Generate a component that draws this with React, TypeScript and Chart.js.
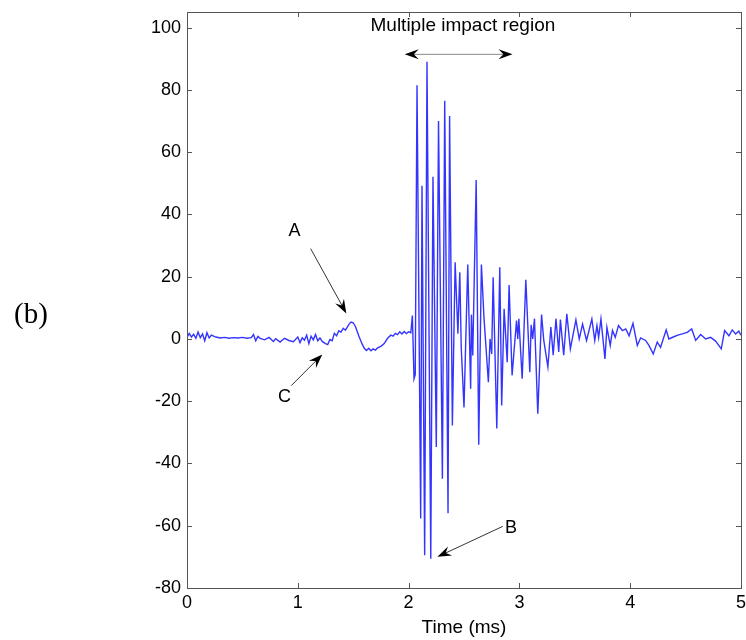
import { useEffect, useRef } from "react";
import { Chart, registerables } from "chart.js";

Chart.register(...registerables);

// ---- Data (time in ms, amplitude) ----
const preTimes = [
  0, 0.02, 0.04, 0.06, 0.08, 0.1, 0.12, 0.14, 0.16, 0.18, 0.2, 0.22,
  0.26, 0.3, 0.34, 0.38, 0.42, 0.46, 0.5, 0.54, 0.58,
  0.6, 0.62, 0.64, 0.66, 0.7, 0.74, 0.78, 0.8, 0.84, 0.88,
  0.92, 0.96, 1.0, 1.02, 1.04, 1.06, 1.08, 1.1, 1.12, 1.14,
  1.16, 1.18, 1.2, 1.22, 1.25, 1.27, 1.29, 1.31, 1.33, 1.35,
  1.37, 1.39, 1.41, 1.43, 1.46, 1.48, 1.5, 1.52, 1.55, 1.58,
  1.6, 1.62, 1.64, 1.66, 1.68, 1.7, 1.72, 1.75, 1.78, 1.81,
  1.84, 1.86, 1.88, 1.9, 1.92, 1.94, 1.96, 1.98, 2.0, 2.02,
];
const preValues = [
  0.5, 1.8, 0.6, 1.5, 0.2, 2.2, 0.4, 1.6, -0.6, 2.0, 0.3, 1.2,
  0.6, 0.3, 0.5, 0.2, 0.4, 0.3, 0.5, 0.2, 0.4,
  1.4, -0.6, 0.8, 0.2, -0.3, 0.5, -0.8, 0.1, -1.0, 0.2,
  -0.5, -0.9, 0.6, -1.2, 0.4, -0.4, 1.2, -1.5, 0.9, -0.3,
  1.4, -0.6, 0.3, -0.8, -1.5, -1.8, -0.2, -0.6, 1.8, 1.0,
  2.6, 2.2, 3.4, 2.8, 4.6, 5.4, 5.2, 4.0, 1.0, -1.6,
  -3.0, -3.7, -3.0, -3.8, -3.2, -3.6, -2.9, -2.4, -1.5, 0.2,
  1.2, 0.9, 1.8, 1.4, 2.3, 1.6, 2.4, 1.7, 2.3, 2.0,
];

const impactTimes = [
  2.034, 2.049, 2.06, 2.076, 2.109, 2.121, 2.145, 2.166, 2.2, 2.22,
  2.25, 2.27, 2.305, 2.326, 2.356, 2.37, 2.395, 2.42, 2.445, 2.462,
  2.475, 2.5, 2.534, 2.56, 2.567, 2.579, 2.61, 2.633, 2.657, 2.68,
  2.72, 2.735, 2.75, 2.763, 2.796, 2.823, 2.84, 2.862, 2.89, 2.907,
  2.934, 2.974, 2.985, 2.995, 3.025, 3.058, 3.094, 3.106, 3.12, 3.136,
  3.166, 3.2, 3.22, 3.257, 3.284, 3.305, 3.33, 3.355, 3.37, 3.4,
];
const impactValues = [
  7.5, -12.8, -11.5, 81.5, -57.7, 49.2, -69.5, 89, -70.6, 52.1,
  -34.7, 70, -44.9, 76.5, -56, 71.6, -27.8, 24.6, 1.7, 21.4,
  -2.7, -22, 23.9, -16, 7.8, -5.3, 51, -34, 23.9, 7,
  -13.9, 0, -4.8, 19.8, -28.8, 23, -21.4, 9.7, -7.5, 17.3,
  -11.7, 5.9, 0, 6.5, -12.8, 19, -10.7, 4.5, 0, 6.5,
  -24, 7.8, -0.5, -9, 3.8, -5.2, 6.5, -4.2, 6.2, -5.2,
];

const tailTimes = [
  3.428, 3.46, 3.51, 3.54, 3.57, 3.606, 3.654, 3.68, 3.7, 3.715,
  3.736, 3.772, 3.79, 3.82, 3.84, 3.865, 3.894, 3.93, 3.96, 3.99,
  4.025, 4.064, 4.094, 4.139, 4.169, 4.208, 4.244, 4.274, 4.325, 4.349,
  4.394, 4.43, 4.47, 4.515, 4.555, 4.591, 4.636, 4.681, 4.726, 4.771,
  4.822, 4.852, 4.891, 4.921, 4.951, 4.98, 5.0,
];
const tailValues = [
  8.1, -3.2, 6.1, 0, 4.8, -0.5, 6.4, -0.5, 4.3, 0.5,
  6.4, -6.4, 3.7, -2.1, 2.7, 0.5, 4.3, 2.7, 3.2, 1.0,
  5.0, -2.1, 0.3, -0.5, -2.1, -4.8, -1.0, -2.7, 2.9, 0,
  0.7, 1.2, 1.6, 2.1, 3.2, -0.5, 1.4, 0, 0.5, -0.7,
  -3.2, 2.7, 1.0, 2.9, 1.6, 2.5, 1.2,
];

const xTicks = [0, 1, 2, 3, 4, 5];
const yTicks = [-80, -60, -40, -20, 0, 20, 40, 60, 80, 100];
const xLabel = "Time (ms)";
const regionLabel = "Multiple impact region";

// annotation anchors in data units (time ms, amplitude)
const regionText = { t: 2.49, v: 100.6 };
const regionArrow = { t1: 1.965, t2: 2.938, v: 91.4 };
const pointerNotes = [
  { label: "A", lt: 0.971, lv: 34.8, fromT: 1.116, fromV: 29, toT: 1.438, toV: 8.2 },
  { label: "C", lt: 0.881, lv: -18.8, fromT: 0.941, fromV: -15, toT: 1.221, toV: -5 },
  { label: "B", lt: 2.925, lv: -60.8, fromT: 2.85, fromV: -60.2, toT: 2.26, toV: -70 },
];

const FONT = "'Liberation Sans', Arial, Helvetica, sans-serif";

function drawHead(ctx: CanvasRenderingContext2D, x1: number, y1: number, x2: number, y2: number) {
  const len = 14;
  const w = 5;
  const dx = x2 - x1;
  const dy = y2 - y1;
  const d = Math.hypot(dx, dy) || 1;
  const ux = dx / d;
  const uy = dy / d;
  const px = -uy;
  const py = ux;
  ctx.beginPath();
  ctx.moveTo(x2, y2);
  ctx.lineTo(x2 - ux * len + px * w, y2 - uy * len + py * w);
  ctx.lineTo(x2 - ux * len * 0.65, y2 - uy * len * 0.65);
  ctx.lineTo(x2 - ux * len - px * w, y2 - uy * len - py * w);
  ctx.closePath();
  ctx.fillStyle = "#000";
  ctx.fill();
}

const decorPlugin = {
  id: "decor",
  afterDraw(chart: any) {
    const ctx: CanvasRenderingContext2D = chart.ctx;
    const { left, right, top, bottom } = chart.chartArea;
    const xs = chart.scales.x;
    const ys = chart.scales.y;
    ctx.save();
    // box
    ctx.strokeStyle = "#555";
    ctx.lineWidth = 1;
    ctx.strokeRect(Math.round(left) + 0.5, Math.round(top) + 0.5, Math.round(right - left), Math.round(bottom - top));
    // inward ticks
    ctx.beginPath();
    const tl = 5;
    xTicks.forEach((v) => {
      const x = Math.round(xs.getPixelForValue(v)) + 0.5;
      ctx.moveTo(x, bottom);
      ctx.lineTo(x, bottom - tl);
      ctx.moveTo(x, top);
      ctx.lineTo(x, top + tl);
    });
    yTicks.forEach((v) => {
      const y = Math.round(ys.getPixelForValue(v)) + 0.5;
      ctx.moveTo(left, y);
      ctx.lineTo(left + tl, y);
      ctx.moveTo(right, y);
      ctx.lineTo(right - tl, y);
    });
    ctx.stroke();

    // region text
    ctx.fillStyle = "#000";
    ctx.font = `19px ${FONT}`;
    ctx.textAlign = "center";
    ctx.textBaseline = "middle";
    ctx.fillText(regionLabel, xs.getPixelForValue(regionText.t), ys.getPixelForValue(regionText.v));

    // double arrow
    const ax1 = xs.getPixelForValue(regionArrow.t1);
    const ax2 = xs.getPixelForValue(regionArrow.t2);
    const ay = ys.getPixelForValue(regionArrow.v);
    ctx.strokeStyle = "#888";
    ctx.lineWidth = 1;
    ctx.beginPath();
    ctx.moveTo(ax1 + 6, ay);
    ctx.lineTo(ax2 - 6, ay);
    ctx.stroke();
    drawHead(ctx, ax2, ay, ax1, ay);
    drawHead(ctx, ax1, ay, ax2, ay);

    // pointer notes
    pointerNotes.forEach((n) => {
      const fx = xs.getPixelForValue(n.fromT);
      const fy = ys.getPixelForValue(n.fromV);
      const tx = xs.getPixelForValue(n.toT);
      const ty = ys.getPixelForValue(n.toV);
      ctx.strokeStyle = "#333";
      ctx.lineWidth = 1;
      ctx.beginPath();
      ctx.moveTo(fx, fy);
      ctx.lineTo(tx - (tx - fx) * 0.05, ty - (ty - fy) * 0.05);
      ctx.stroke();
      drawHead(ctx, fx, fy, tx, ty);
      ctx.fillStyle = "#000";
      ctx.font = `18px ${FONT}`;
      ctx.textAlign = "center";
      ctx.textBaseline = "middle";
      ctx.fillText(n.label, xs.getPixelForValue(n.lt), ys.getPixelForValue(n.lv));
    });
    ctx.restore();
  },
};

export default function App() {
  const canvasRef = useRef<HTMLCanvasElement | null>(null);

  useEffect(() => {
    if (!canvasRef.current) return;
    const times = [...preTimes, ...impactTimes, ...tailTimes];
    const values = [...preValues, ...impactValues, ...tailValues];
    const points = times.map((t, i) => ({ x: t, y: values[i] }));

    const chart = new Chart(canvasRef.current, {
      type: "line",
      data: {
        datasets: [
          {
            data: points,
            borderColor: "rgba(30,30,255,0.9)",
            borderWidth: 1.4,
            pointRadius: 0,
            tension: 0,
            fill: false,
          },
        ],
      },
      options: {
        animation: false,
        responsive: true,
        maintainAspectRatio: false,
        layout: { padding: { left: 0, right: 5, top: 12, bottom: 0 } },
        plugins: { legend: { display: false }, tooltip: { enabled: false } },
        scales: {
          x: {
            type: "linear",
            min: 0,
            max: 5,
            grid: { display: false, drawTicks: false },
            border: { display: false },
            afterBuildTicks: (s: any) => {
              s.ticks = xTicks.map((v) => ({ value: v }));
            },
            afterFit: (s: any) => {
              s.height = 52;
              s.paddingLeft = 0;
              s.paddingRight = 0;
            },
            ticks: {
              color: "#000",
              font: { family: FONT, size: 18 },
              padding: 4,
              maxRotation: 0,
              autoSkip: false,
            },
            title: {
              display: true,
              text: xLabel,
              color: "#000",
              font: { family: FONT, size: 19 },
              padding: { top: 0, bottom: 1 },
            },
          },
          y: {
            type: "linear",
            min: -80,
            max: 105,
            grid: { display: false, drawTicks: false },
            border: { display: false },
            afterBuildTicks: (s: any) => {
              s.ticks = yTicks.map((v) => ({ value: v }));
            },
            afterFit: (s: any) => {
              s.width = 187;
              s.paddingTop = 0;
              s.paddingBottom = 0;
            },
            ticks: {
              color: "#000",
              font: { family: FONT, size: 18 },
              padding: 6,
              autoSkip: false,
            },
          },
        },
      },
      plugins: [decorPlugin],
    });
    return () => chart.destroy();
  }, []);

  return (
    <div style={{ position: "absolute", left: 0, top: 0, width: 746, height: 640, background: "#fff" }}>
      <canvas ref={canvasRef} />
      <div
        style={{
          position: "absolute",
          left: 14,
          top: 293,
          fontFamily: "'Liberation Serif', 'DejaVu Serif', serif",
          fontSize: 29,
          color: "#000",
          lineHeight: "40px",
        }}
      >
        (b)
      </div>
    </div>
  );
}
